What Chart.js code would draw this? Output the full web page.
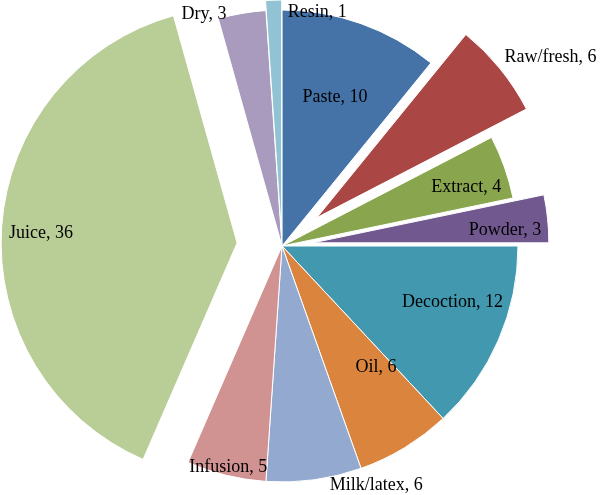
<!DOCTYPE html>
<html>
<head>
<meta charset="utf-8">
<script src="https://cdn.jsdelivr.net/npm/chart.js@4.4.1/dist/chart.umd.min.js"></script>
<style>
    body { margin: 0; background: #fff; }
    #contenedor { width: 600px; height: 495px; }
</style>
</head>
<body>
<div id="contenedor"><canvas id="grafico"></canvas></div>
<script>
// Datos del grafico
var categorias = ["Paste", "Raw/fresh", "Extract", "Powder", "Decoction", "Oil", "Milk/latex", "Infusion", "Juice", "Dry", "Resin"];
var valores = [10, 6, 4, 3, 12, 6, 6, 5, 36, 3, 1];

var colores = ["#4572A7", "#AA4643", "#89A54E", "#71588F", "#4198AF", "#DB843D",
               "#93A9CF", "#D19392", "#B9CD96", "#A99BBD", "#92C3D5"];

// Separacion de cada porcion (px)
var separacion = [0, 45, 0, 31, 0, 0, 0, 0, 45, 0, 10];

// Etiquetas: giro (grados) respecto a la bisectriz y fraccion del radio
var etiquetaGiro = [0, 4.7, 1.8, 2.1, -5.3, -6.5, -13.7, 0, -1, -8.8, 11];
var etiquetaRadio = [0.67, 1.2, 0.82, 0.816, 0.76, 0.65, 1.088, 0.963, 0.832, 1.037, 0.961];

document.addEventListener("DOMContentLoaded", function () {
    var canvas = document.getElementById("grafico");
    var ctx = canvas.getContext("2d");

    // Dibuja cada porcion desplazada hacia afuera
    var separar = {
        id: "separar",
        beforeDatasetDraw: function (chart, args) {
            var c = chart.ctx;
            args.meta.data.forEach(function (arco, i) {
                var medio = (arco.startAngle + arco.endAngle) / 2;
                c.save();
                c.translate(Math.cos(medio) * separacion[i], Math.sin(medio) * separacion[i]);
                arco.draw(c);
                c.restore();
            });
            return false;
        }
    };

    var etiquetas = {
        id: "etiquetas",
        afterDatasetsDraw: function (chart) {
            var c = chart.ctx;
            var arcos = chart.getDatasetMeta(0).data;
            c.save();
            c.font = "18px 'Liberation Serif'";
            c.fillStyle = "#000";
            c.textAlign = "center";
            c.textBaseline = "middle";
            arcos.forEach(function (arco, i) {
                var medio = (arco.startAngle + arco.endAngle) / 2;
                var cx = arco.x + Math.cos(medio) * separacion[i];
                var cy = arco.y + Math.sin(medio) * separacion[i];
                var ang = medio + etiquetaGiro[i] * Math.PI / 180;
                var r = arco.outerRadius * etiquetaRadio[i];
                c.fillText(categorias[i] + ", " + valores[i], cx + Math.cos(ang) * r, cy + Math.sin(ang) * r);
            });
            c.restore();
        }
    };

    var myChart = new Chart(ctx, {
        type: "pie",
        data: {
            labels: categorias,
            datasets: [{
                data: valores,
                backgroundColor: colores,
                borderColor: "#fff",
                borderWidth: 1,
                radius: 236
            }]
        },
        options: {
            responsive: true,
            maintainAspectRatio: false,
            animation: false,
            layout: { padding: { left: 0, right: 36, top: 0, bottom: 3 } },
            plugins: {
                legend: { display: false },
                tooltip: { enabled: false }
            }
        },
        plugins: [separar, etiquetas]
    });
});
</script>
</body>
</html>
